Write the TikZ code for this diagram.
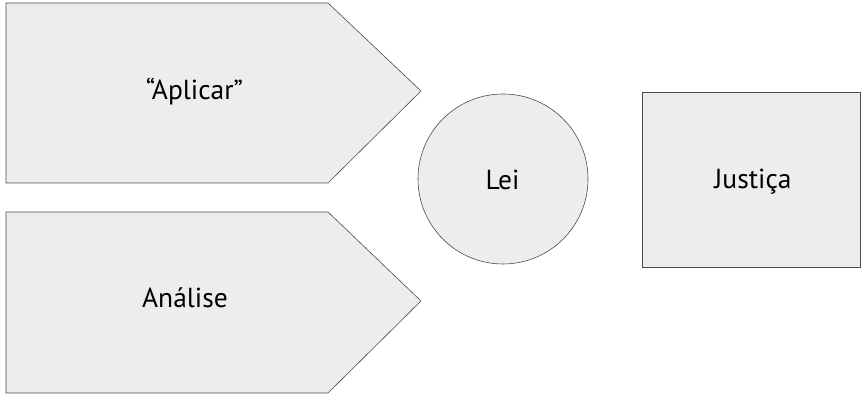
\documentclass[tikz,border=0pt]{standalone}
\usepackage{fontspec}
\setmainfont{PT Sans}
\begin{document}
\begin{tikzpicture}[x=1pt,y=1pt,
  shapebox/.style={draw=black!70,line width=0.6pt,fill=black!7},
  lbl/.style={font=\fontsize{27.5}{32}\selectfont,anchor=base,inner sep=0pt}]
  \pgfmathsetmacro\lft{6}     % left edge of the arrows
  \pgfmathsetmacro\bend{328}  % where the point starts
  \pgfmathsetmacro\tip{421}   % tip of the arrows
  \useasboundingbox (0,0) rectangle (863,395);

% upper arrow
  \draw[shapebox] (\lft,212) -- (\lft,392) -- (\bend,392) -- (\tip,304) -- (\bend,212) -- cycle;
  \node[lbl] (aplicar) at (194.5,295) {“Aplicar”};

% lower arrow
  \draw[shapebox] (\lft,2) -- (\lft,183) -- (\bend,183) -- (\tip,94) -- (\bend,2) -- cycle;
  \node[lbl] (analise) at (185,87) {Análise};

% circle
  \draw[shapebox] (503,216) circle (85);
  \node[lbl] (lei) at (502.5,205) {Lei};

% box
  \draw[shapebox] (642,128) rectangle (860,303);
  \node[lbl] (justica) at (753,206) {Justiça};

\end{tikzpicture}
\end{document}
